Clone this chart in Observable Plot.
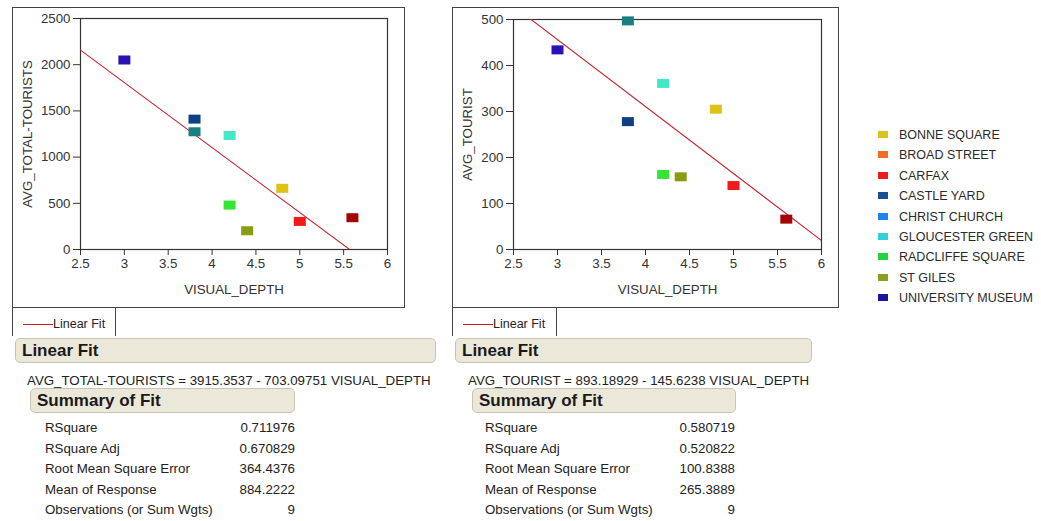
<!DOCTYPE html>
<html>
<head>
<meta charset="utf-8">
<script src="https://cdn.jsdelivr.net/npm/d3@7"></script>
<script src="https://cdn.jsdelivr.net/npm/@observablehq/plot@0.6"></script>
<style>
  html, body { margin: 0; padding: 0; background: #fff; }
  body { width: 1041px; height: 521px; position: relative; overflow: hidden;
         font-family: "Liberation Sans", Arial, sans-serif; color: #222; }
  .abs { position: absolute; }
  .panel { position: absolute; box-sizing: border-box; border: 1.5px solid #444; pointer-events: none; }
  .fitkey { position: absolute; box-sizing: border-box; border-left: 1.5px solid #444; border-right: 1.5px solid #444; }
  .fitkey .ln { position: absolute; left: 10px; top: 16px; width: 30px; height: 0; border-top: 1.3px solid #c02028; }
  .fitkey .tx { position: absolute; left: 40px; top: 9px; font-size: 12.5px; color: #222; white-space: nowrap; }
  .hdr { position: absolute; box-sizing: border-box; background: #ebe8da; border: 1px solid #c9c5b3;
         border-radius: 5px; font-weight: bold; font-size: 17px; color: #1a1a1a; padding-left: 6px; line-height: 23px; z-index: 1; }
  .txt { position: absolute; font-size: 13.3px; white-space: nowrap; line-height: 16px; color: #222; z-index: 2; }
  .val { text-align: right; }
  .lg { position: absolute; font-size: 12.5px; white-space: nowrap; color: #2a2a2a; line-height: 16px; }
  .lg .sw { position: absolute; left: -21px; top: 4px; width: 10px; height: 7px; }
</style>
</head>
<body>
<script>
// ---------- data ----------
const categories = ["BONNE SQUARE","BROAD STREET","CARFAX","CASTLE YARD","CHRIST CHURCH","GLOUCESTER GREEN","RADCLIFFE SQUARE","ST GILES","UNIVERSITY MUSEUM"];
const legendColors = ["#dcc21c","#ef6e22","#ee1c1c","#1c4f90","#2182ee","#33cfd6","#22d43a","#8aa01f","#1b149c"];
const pointColors  = ["#e0c214","#a30606","#f01a1a","#0f3f85","#1a7f80","#43e8c6","#33e633","#8c9c12","#2a12b4"];
const visualDepth      = [4.8, 5.6, 5.0, 3.8, 3.8, 4.2, 4.2, 4.4, 3.0];
const avgTotalTourists = [662, 344, 304, 1411, 1274, 1234, 481, 203, 2051];
const avgTourist       = [305, 66, 139, 278, 497, 361, 163, 158, 434];
const xTicks      = [2.5, 3, 3.5, 4, 4.5, 5, 5.5, 6];
const yTicksLeft  = [0, 500, 1000, 1500, 2000, 2500];
const yTicksRight = [0, 100, 200, 300, 400, 500];
const yLabels     = ["AVG_TOTAL-TOURISTS", "AVG_TOURIST"];
const fitIntercepts = [3915.3537, 893.18929];
const fitSlopes     = [-703.09751, -145.6238];
const equations = ["AVG_TOTAL-TOURISTS = 3915.3537 - 703.09751 VISUAL_DEPTH",
                   "AVG_TOURIST = 893.18929 - 145.6238 VISUAL_DEPTH"];
const summaryLabels = ["RSquare","RSquare Adj","Root Mean Square Error","Mean of Response","Observations (or Sum Wgts)"];
const summaryLeft   = ["0.711976","0.670829","364.4376","884.2222","9"];
const summaryRight  = ["0.580719","0.520822","100.8388","265.3889","9"];

// ---------- helpers ----------
const FONT = '"Liberation Sans", Arial, sans-serif';
const rectSymbol = { draw(ctx) { ctx.rect(-6, -4.5, 12, 9); } };

function el(cls, css, html) {
  const d = document.createElement("div");
  d.className = cls;
  Object.assign(d.style, css);
  if (html != null) d.innerHTML = html;
  document.body.appendChild(d);
  return d;
}

function makeChart(i, yValues, yTicks, box, m) {
  const xDomain = [2.5, 6];
  const fit = xDomain.map(x => ({x, y: fitIntercepts[i] + fitSlopes[i] * x}));
  const chart = Plot.plot({
    width: box.w, height: box.h,
    marginLeft: m.l, marginTop: m.t, marginRight: m.r, marginBottom: m.b,
    style: {fontFamily: FONT, fontSize: "13.3px", color: "#333", background: "transparent", overflow: "visible"},
    x: {domain: xDomain, ticks: xTicks, tickSize: 6, tickPadding: 3, label: "VISUAL_DEPTH", labelArrow: "none",
        labelAnchor: "center", labelOffset: 44, tickFormat: d => String(d)},
    y: {domain: [yTicks[0], yTicks[yTicks.length - 1]], ticks: yTicks, tickSize: 7, tickPadding: 3,
        label: yLabels[i], labelArrow: "none", labelAnchor: "center", labelOffset: m.lo, tickFormat: d3.format("d")},
    color: {domain: categories, range: pointColors},
    marks: [
      Plot.frame({stroke: "#333", strokeWidth: 1.2}),
      Plot.line(fit, {x: "x", y: "y", stroke: "#c4242c", strokeWidth: 1.1, clip: true}),
      Plot.dot(categories, {x: visualDepth, y: yValues, fill: categories, symbol: rectSymbol, stroke: "none"})
    ]
  });
  const holder = el("abs", {left: box.x + "px", top: box.y + "px", width: box.w + "px", height: box.h + "px"});
  holder.appendChild(chart);
  el("panel", {left: box.x + "px", top: box.y + "px", width: box.w + "px", height: box.h + "px"});
}

makeChart(0, avgTotalTourists, yTicksLeft, {x: 12, y: 7, w: 393, h: 301}, {l: 68, t: 11, r: 18, b: 59, lo: 58});
makeChart(1, avgTourist, yTicksRight, {x: 452, y: 7, w: 387, h: 301}, {l: 61, t: 12, r: 18, b: 59, lo: 51});

// ---------- fit key, headers, summaries ----------
function lowerBlock(i, o) {
  el("fitkey", {left: o.kx + "px", top: "308px", width: o.kw + "px", height: "28px"},
     '<div class="ln"></div><div class="tx">Linear Fit</div>');
  el("hdr", {left: o.hx + "px", top: "338px", width: o.hw + "px", height: "25px"}, "Linear Fit");
  el("hdr", {left: o.sx + "px", top: "388px", width: o.sw + "px", height: "25px"}, "Summary of Fit");
  el("txt", {left: o.ex + "px", top: "373px"}, equations[i]);
  const vals = i === 0 ? summaryLeft : summaryRight;
  summaryLabels.forEach((lab, k) => {
    const top = 420 + k * 20.6;
    el("txt", {left: o.lx + "px", top: top + "px"}, lab);
    el("txt val", {left: (o.vx - 100) + "px", width: "100px", top: top + "px"}, vals[k]);
  });
}
lowerBlock(0, {kx: 12, kw: 104, hx: 15, hw: 421, ex: 27, sx: 30, sw: 265, lx: 45, vx: 295});
lowerBlock(1, {kx: 452, kw: 105, hx: 455, hw: 357, ex: 468, sx: 472, sw: 264, lx: 485, vx: 735});

// ---------- category legend ----------
categories.forEach((c, k) => {
  el("lg", {left: "899px", top: (127 + k * 20.4) + "px"},
     `<span class="sw" style="background:${legendColors[k]}"></span>${c}`);
});
</script>
</body>
</html>
